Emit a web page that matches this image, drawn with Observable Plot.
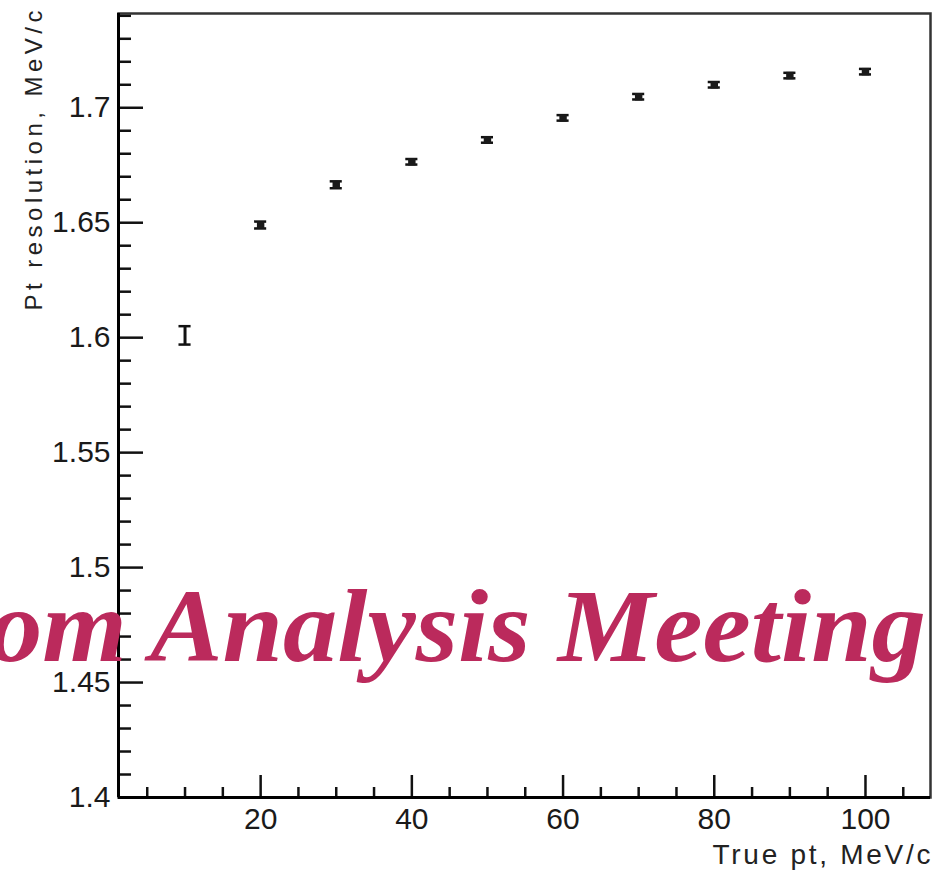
<!DOCTYPE html>
<html>
<head>
<meta charset="utf-8">
<script src="https://cdn.jsdelivr.net/npm/d3@7"></script>
<script src="https://cdn.jsdelivr.net/npm/@observablehq/plot@0.6"></script>
<style>
  html, body { margin: 0; padding: 0; background: #fff; }
  #wrap { position: relative; width: 935px; height: 879px; overflow: hidden; }
  #wm {
    position: absolute; left: -12px; top: 574px;
    font-family: "Liberation Serif", "DejaVu Serif", serif;
    font-weight: bold; font-style: italic; font-size: 104px;
    color: #bb2a5c; white-space: nowrap; line-height: 1; pointer-events: none;
    transform: scaleX(1.045); transform-origin: 0 0;
  }
</style>
</head>
<body>
<div id="wrap"></div>
<script>
// Data
const truePt = [10, 20, 30, 40, 50, 60, 70, 80, 90, 100];
const resolution = [1.601, 1.649, 1.6665, 1.6765, 1.686, 1.6956, 1.7048, 1.710, 1.714, 1.7157];
const resErr = [0.004, 0.0015, 0.0015, 0.0012, 0.0012, 0.0012, 0.0012, 0.0012, 0.0012, 0.0012];
const xMajorTicks = [20, 40, 60, 80, 100];
const xMinorTicks = [5, 10, 15, 25, 30, 35, 45, 50, 55, 65, 70, 75, 85, 90, 95, 105];
const yMajorTicks = [1.4, 1.45, 1.5, 1.55, 1.6, 1.65, 1.7];
const yMinorTicks = [1.41,1.42,1.43,1.44,1.46,1.47,1.48,1.49,1.51,1.52,1.53,1.54,1.56,1.57,1.58,1.59,1.61,1.62,1.63,1.64,1.66,1.67,1.68,1.69,1.71,1.72,1.73,1.74];
const xTitle = "True pt, MeV/c";
const yTitle = "Pt resolution, MeV/c";
const watermark = "om Analysis Meeting";

const points = truePt.map((x, i) => ({x, y: resolution[i], e: resErr[i]}));

const W = 935, H = 879;
const mL = 118, mR = 5, mT = 13, mB = 82;
const fw = W - mL - mR, fh = H - mT - mB;

const chart = Plot.plot({
  width: W, height: H,
  marginLeft: mL, marginRight: mR, marginTop: mT, marginBottom: mB,
  style: {fontFamily: "Liberation Sans, Arial, sans-serif", color: "#222", background: "#fff"},
  x: {domain: [1.2, 108.6]},
  y: {domain: [1.4, 1.741]},
  marks: [
    Plot.frame({stroke: "#333", strokeWidth: 2.5}),
    // inward ticks
    Plot.tickY(yMajorTicks, {y: d => d, insetRight: fw - 25, stroke: "#111", strokeWidth: 2.5}),
    Plot.tickY(yMinorTicks, {y: d => d, insetRight: fw - 13, stroke: "#111", strokeWidth: 2.5}),
    Plot.tickX(xMajorTicks, {x: d => d, insetTop: fh - 22, stroke: "#111", strokeWidth: 2.5}),
    Plot.tickX(xMinorTicks, {x: d => d, insetTop: fh - 10, stroke: "#111", strokeWidth: 2.5}),
    Plot.axisY(yMajorTicks, {tickSize: 0, tickPadding: 8, fontSize: 30, tickFormat: d => String(+d.toFixed(2)), label: null, fill: "#1a1a1a"}),
    Plot.axisX(xMajorTicks, {tickSize: 0, tickPadding: 10, fontSize: 30, tickFormat: d => String(d), label: null, fill: "#1a1a1a"}),
    Plot.ruleX([1.2], {stroke: "#000", strokeWidth: 3}),
    Plot.ruleY([1.4], {stroke: "#000", strokeWidth: 3}),
    // error bars
    Plot.ruleX(points, {x: "x", y1: d => d.y - d.e, y2: d => d.y + d.e, stroke: "#111", strokeWidth: 3}),
    Plot.ruleY(points, {y: d => d.y - d.e, x1: d => d.x - 0.8, x2: d => d.x + 0.8, stroke: "#111", strokeWidth: 2.5}),
    Plot.ruleY(points, {y: d => d.y + d.e, x1: d => d.x - 0.8, x2: d => d.x + 0.8, stroke: "#111", strokeWidth: 2.5}),
    // markers where error bar is shorter than the marker
    Plot.dot(points.filter(d => d.e < 0.002), {x: "x", y: "y", symbol: "square", r: 4.2, fill: "#1a1a1a", stroke: "none"}),
    // titles
    Plot.text([xTitle], {text: d => d, frameAnchor: "bottom-right", textAnchor: "end", dy: 66, fontSize: 28, fill: "#222"}),
    Plot.text([yTitle], {text: d => d, frameAnchor: "top-left", textAnchor: "end", rotate: -90, dx: -94, dy: -3, fontSize: 24, fill: "#222"})
  ]
});

document.getElementById("wrap").appendChild(chart);
// stretch titles to the lengths seen in the reference
d3.select(chart).selectAll("text").filter(function() { return this.textContent === xTitle; })
  .attr("textLength", 218).attr("lengthAdjust", "spacing");
d3.select(chart).selectAll("text").filter(function() { return this.textContent === yTitle; })
  .attr("textLength", 300).attr("lengthAdjust", "spacing");

const wm = document.createElement("div");
wm.id = "wm";
wm.textContent = watermark;
document.getElementById("wrap").appendChild(wm);
</script>
</body>
</html>
